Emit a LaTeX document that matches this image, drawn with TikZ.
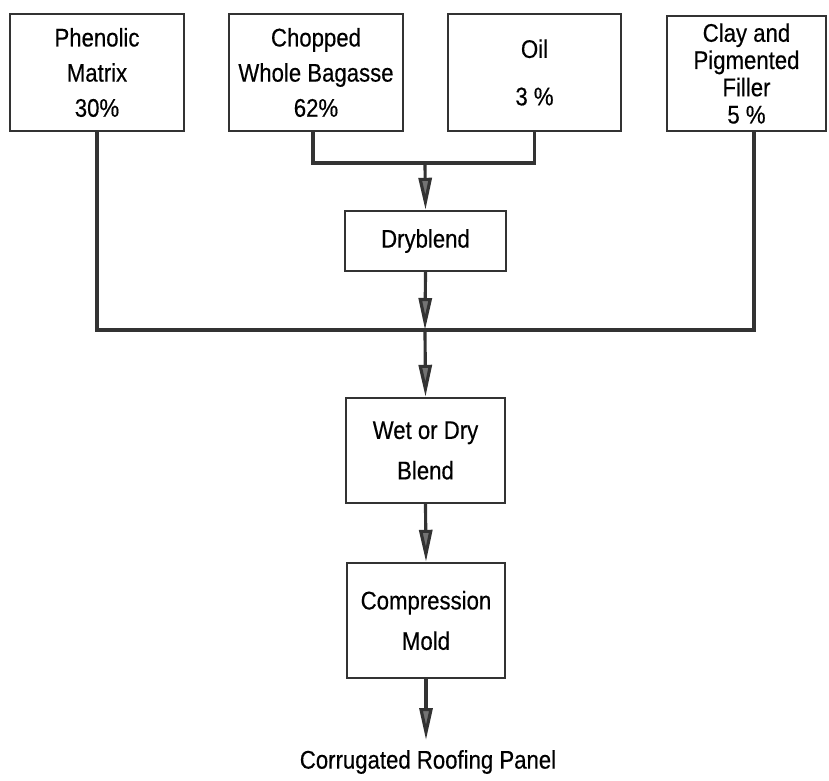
\documentclass[tikz,border=0pt]{standalone}
\usepackage{fontspec}
\setmainfont{Liberation Sans}[FakeStretch=0.87,FakeBold=0.4]
\usetikzlibrary{arrows.meta}

\begin{document}
\begin{tikzpicture}[x=0.02cm,y=-0.02cm,
		box/.style={draw=black!80,line width=1.4pt,align=center,inner sep=0pt,font=\fontsize{14.5}{20}\selectfont},
		link/.style={draw=black!80,line width=1.8pt},
		flow/.style={link,-{Triangle[length=6.4mm,width=2.6mm,fill=black!55]}}]
		\useasboundingbox (0,0) rectangle (829,781);
		% raw materials
		\node[box,minimum width=3.48cm,minimum height=2.34cm] (matrix) at (97,72.5) {Phenolic\\Matrix\\30\%};
		\node[box,minimum width=3.48cm,minimum height=2.34cm] (bagasse) at (316,72.5) {Chopped\\Whole Bagasse\\62\%};
		\node[box,minimum width=3.46cm,minimum height=2.34cm] (oil) at (534.5,72.5) {Oil\\[7pt]3 \%};
		\node[box,minimum width=3.18cm,minimum height=2.30cm,font=\fontsize{14.5}{15.5}\selectfont] (clay) at (746.5,73.5) {Clay and\\Pigmented\\Filler\\5 \%};
		% process steps
		\node[box,minimum width=3.22cm,minimum height=1.2cm] (dry) at (425.5,241) {Dryblend};
		\node[box,minimum width=3.18cm,minimum height=2.1cm,font=\fontsize{14.5}{23}\selectfont] (wet) at (425.5,450.5) {Wet or Dry\\Blend};
		\node[box,minimum width=3.16cm,minimum height=2.3cm,font=\fontsize{14.5}{23}\selectfont] (mold) at (426,620.5) {Compression\\Mold};
		\node[font=\fontsize{14.5}{16}\selectfont] (panel) at (428,762) {Corrugated Roofing Panel};
		\coordinate (join) at (425,163);
		\coordinate (merge) at (425,330);
		\coordinate (out) at (426,740);
		% connectors
		\draw[link] ([xshift=-0.06cm]bagasse.south) |- (join) -| (oil.south);
		\draw[flow] (join) -- (dry.north);
		\draw[link] (matrix.south) |- (merge) -| ([xshift=0.15cm]clay.south);
		\draw[flow] (dry.south) -- (merge);
		\draw[flow] (merge) -- (wet.north);
		\draw[flow] (wet.south) -- (mold.north);
		\draw[flow] (mold.south) -- (out);
	\end{tikzpicture}
\end{document}
